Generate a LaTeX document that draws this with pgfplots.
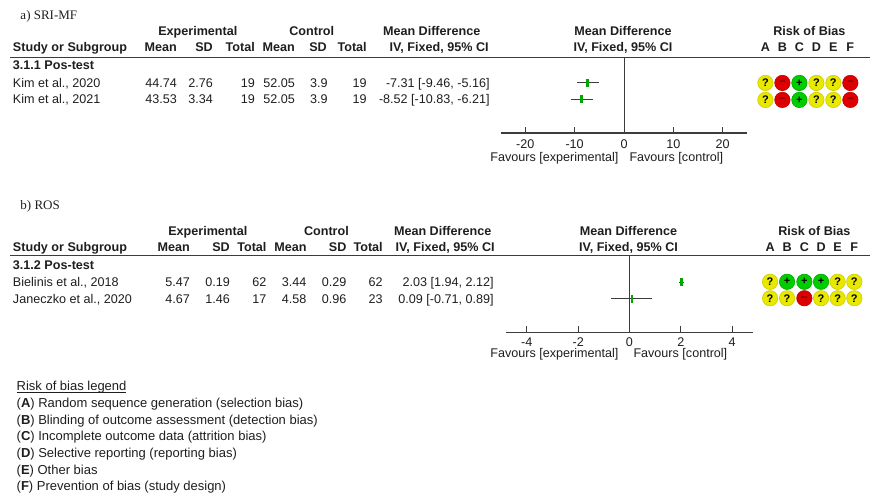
\documentclass[border=0pt]{standalone}
\usepackage{pgfplots}
\pgfplotsset{compat=1.18}
\usepackage{fontspec}
\setmainfont{Liberation Sans}
\newfontfamily\seriffont{Liberation Serif}
\definecolor{txt}{RGB}{30,30,30}
\definecolor{axgray}{RGB}{60,60,60}
\definecolor{mdgreen}{RGB}{0,165,0}
\definecolor{robY}{RGB}{232,232,0}
\definecolor{robYd}{RGB}{205,205,0}
\definecolor{robR}{RGB}{222,0,0}
\definecolor{robRd}{RGB}{190,0,0}
\definecolor{robG}{RGB}{0,205,0}
\definecolor{robGd}{RGB}{0,170,0}
\newcommand{\fs}{\fontsize{12.6}{14}\selectfont}
\newcommand{\fl}{\fontsize{13}{15}\selectfont}
\newcommand{\R}[3]{\node[anchor=base east] at (#1,#2) {#3};}
\newcommand{\B}[3]{\node[anchor=base east,font=\fs\bfseries] at (#1,#2) {#3};}
\newcommand{\C}[3]{\node[anchor=base,font=\fs\bfseries] at (#1,#2) {#3};}
\begin{document}
\begin{tikzpicture}[x=1pt,y=-1pt, every node/.style={inner sep=0pt, outer sep=0pt, text=txt, font=\fs}]
\path (0,0) rectangle (871,498);
% ================= panel a =================
\node[anchor=base west, font=\seriffont\fontsize{13}{15}\selectfont] at (20.5,19.3) {a) SRI-MF};
\C{198}{36}{Experimental}
\C{312}{36}{Control}
\C{432}{36}{Mean Difference}
\C{623.5}{36}{Mean Difference}
\C{810}{36}{Risk of Bias}
\node[anchor=base west,font=\fs\bfseries] at (13,51.5) {Study or Subgroup};
\B{177}{51.5}{Mean}\B{213}{51.5}{SD}\B{255}{51.5}{Total}
\B{295}{51.5}{Mean}\B{327}{51.5}{SD}\B{367}{51.5}{Total}
\B{489}{51.5}{IV, Fixed, 95\% CI}
\C{623.5}{51.5}{IV, Fixed, 95\% CI}
\C{766}{51.5}{A}\C{783}{51.5}{B}\C{800}{51.5}{C}\C{817}{51.5}{D}\C{834}{51.5}{E}\C{851}{51.5}{F}
\draw[axgray, line width=1.4pt] (10,57.5) -- (871,57.5);
\node[anchor=base west,font=\fs\bfseries] at (13,70) {3.1.1 Pos-test};
\node[anchor=base west] at (13,87.5) {Kim et al., 2020};
\R{177}{87.5}{44.74}\R{213}{87.5}{2.76}\R{255}{87.5}{19}\R{295}{87.5}{52.05}\R{328}{87.5}{3.9}\R{367}{87.5}{19}\R{490}{87.5}{-7.31 [-9.46, -5.16]}
\node[anchor=base west] at (13,104) {Kim et al., 2021};
\R{177}{104}{43.53}\R{213}{104}{3.34}\R{255}{104}{19}\R{295}{104}{52.05}\R{328}{104}{3.9}\R{367}{104}{19}\R{490}{104}{-8.52 [-10.83, -6.21]}
\node[anchor=base east] at (619,162) {Favours [experimental]};
\node[anchor=base west] at (630,162) {Favours [control]};
% ================= panel b =================
\node[anchor=base west, font=\seriffont\fontsize{13}{15}\selectfont] at (20.5,209.5) {b) ROS};
\C{208}{235.5}{Experimental}
\C{326.7}{235.5}{Control}
\C{443}{235.5}{Mean Difference}
\C{629}{235.5}{Mean Difference}
\C{815}{235.5}{Risk of Bias}
\node[anchor=base west,font=\fs\bfseries] at (13,252) {Study or Subgroup};
\B{190}{252}{Mean}\B{230}{252}{SD}\B{266.7}{252}{Total}
\B{306.7}{252}{Mean}\B{346.7}{252}{SD}\B{383}{252}{Total}
\B{495}{252}{IV, Fixed, 95\% CI}
\C{629}{252}{IV, Fixed, 95\% CI}
\C{770.7}{252}{A}\C{787.7}{252}{B}\C{805}{252}{C}\C{821.7}{252}{D}\C{838.3}{252}{E}\C{855}{252}{F}
\draw[axgray, line width=1.4pt] (10,255.5) -- (871,255.5);
\node[anchor=base west,font=\fs\bfseries] at (13,270) {3.1.2 Pos-test};
\node[anchor=base west] at (13,287) {Bielinis et al., 2018};
\R{190}{287}{5.47}\R{230}{287}{0.19}\R{266.7}{287}{62}\R{306.7}{287}{3.44}\R{346.7}{287}{0.29}\R{383}{287}{62}\R{494}{287}{2.03 [1.94, 2.12]}
\node[anchor=base west] at (13,303.5) {Janeczko et al., 2020};
\R{190}{303.5}{4.67}\R{230}{303.5}{1.46}\R{266.7}{303.5}{17}\R{306.7}{303.5}{4.58}\R{346.7}{303.5}{0.96}\R{383}{303.5}{23}\R{494}{303.5}{0.09 [-0.71, 0.89]}
\node[anchor=base east] at (619,358) {Favours [experimental]};
\node[anchor=base west] at (634,358) {Favours [control]};
% ================= legend =================
\node[anchor=base west,font=\fl] (rl) at (16.7,390.5) {Risk of bias legend};
\draw[txt, line width=0.6pt] (16.7,392.6) -- (rl.base east |- 0,392.6);
\node[anchor=base west,font=\fl] at (16.7,407.5) {(\textbf{A}) Random sequence generation (selection bias)};
\node[anchor=base west,font=\fl] at (16.7,424.5) {(\textbf{B}) Blinding of outcome assessment (detection bias)};
\node[anchor=base west,font=\fl] at (16.7,441) {(\textbf{C}) Incomplete outcome data (attrition bias)};
\node[anchor=base west,font=\fl] at (16.7,458) {(\textbf{D}) Selective reporting (reporting bias)};
\node[anchor=base west,font=\fl] at (16.7,474.5) {(\textbf{E}) Other bias};
\node[anchor=base west,font=\fl] at (16.7,491) {(\textbf{F}) Prevention of bias (study design)};
% ================= forest a =================
\begin{axis}[
  at={(501pt,-133pt)}, anchor=south west,
  scale only axis, width=247pt, height=75.5pt,
  xmin=-25, xmax=25, ymin=-133, ymax=-57.5,
  axis y line=none, axis x line*=bottom,
  x axis line style={-, axgray, line width=1.3pt},
  xtick={-20,-10,0,10,20}, xticklabels={-20,-10,0,10,20},
  tick align=inside, major tick length=6pt,
  xtick style={axgray, line width=0.8pt},
  xticklabel style={font=\fs, text=txt, anchor=base, yshift=-16pt},
  clip=false,
]
\addplot[axgray, line width=1pt] coordinates {(0,-57.5) (0,-133)};
\addplot[only marks, mark=|, mark size=4pt, mdgreen, mark options={line width=3pt}] coordinates {(-7.31,-83) (-8.52,-99.5)};
\addplot[axgray, line width=1pt] coordinates {(-9.46,-83) (-5.16,-83)};
\addplot[axgray, line width=1pt] coordinates {(-10.83,-99.5) (-6.21,-99.5)};
\end{axis}
% ================= forest b =================
\begin{axis}[
  at={(506.7pt,-332.5pt)}, anchor=south west,
  scale only axis, width=246.6pt, height=77pt,
  xmin=-4.8, xmax=4.8, ymin=-332.5, ymax=-255.5,
  axis y line=none, axis x line*=bottom,
  x axis line style={-, axgray, line width=1.3pt},
  xtick={-4,-2,0,2,4}, xticklabels={-4,-2,0,2,4},
  tick align=inside, major tick length=6pt,
  xtick style={axgray, line width=0.8pt},
  xticklabel style={font=\fs, text=txt, anchor=base, yshift=-14.5pt},
  clip=false,
]
\addplot[axgray, line width=1pt] coordinates {(0,-255.5) (0,-332.5)};
\addplot[only marks, mark=|, mark size=4pt, mdgreen, mark options={line width=2.5pt}] coordinates {(2.03,-282.5) (0.09,-299)};
\addplot[axgray, line width=1pt] coordinates {(1.94,-282.5) (2.12,-282.5)};
\addplot[axgray, line width=1pt] coordinates {(-0.71,-299) (0.89,-299)};
\end{axis}
% ================= risk of bias circles =================
\begin{axis}[
  at={(0pt,-498pt)}, anchor=south west,
  scale only axis, width=871pt, height=498pt,
  xmin=0, xmax=871, ymin=-498, ymax=0,
  hide axis, clip=false,
  every node near coord/.append style={anchor=center, font=\bfseries\fontsize{11}{11}\selectfont, text=black, inner sep=0pt},
  nodes near coords align={center},
]
\addplot[only marks, mark=*, mark size=7.7pt, mark options={fill=robY, draw=robYd, line width=0.6pt}, nodes near coords={?}] coordinates {
(766,-83) (817,-83) (834,-83) (766,-100) (817,-100) (834,-100)
(770.7,-282) (838.3,-282) (855,-282)
(770.7,-298.5) (787.7,-298.5) (821.7,-298.5) (838.3,-298.5) (855,-298.5)};
\addplot[only marks, mark=*, mark size=7.7pt, mark options={fill=robR, draw=robRd, line width=0.6pt}, nodes near coords={--}, every node near coord/.append style={text=robRd!55!black}] coordinates {
(783,-83) (851,-83) (783,-100) (851,-100) (805,-298.5)};
\addplot[only marks, mark=*, mark size=7.7pt, mark options={fill=robG, draw=robGd, line width=0.6pt}, nodes near coords={+}] coordinates {
(800,-83) (800,-100) (787.7,-282) (805,-282) (821.7,-282)};
\end{axis}
\end{tikzpicture}
\end{document}
